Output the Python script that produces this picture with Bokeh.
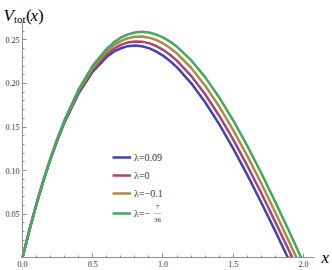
from bokeh.plotting import figure
from bokeh.models import Range1d, FixedTicker, NumeralTickFormatter, Legend, LegendItem, Label
from bokeh.embed import file_html
from bokeh.resources import INLINE

# ---- data (each curve ends where it meets V=0) ----
x_common = [0.0, 0.05, 0.1, 0.15, 0.2, 0.25, 0.3, 0.4, 0.5, 0.6, 0.65, 0.7, 0.75, 0.8, 0.85,
            0.9, 0.95, 1.0, 1.05, 1.1, 1.2, 1.3, 1.4, 1.5, 1.6, 1.7, 1.8]
x_009 = x_common + [1.888]
v_009 = [0.0, 0.0321, 0.0617, 0.0887, 0.1133, 0.1356, 0.1555, 0.1888, 0.2136, 0.2307, 0.2365,
         0.2405, 0.2429, 0.2437, 0.2429, 0.2407, 0.2370, 0.2321, 0.2259, 0.2185, 0.2005, 0.1785,
         0.1533, 0.1252, 0.0949, 0.0630, 0.0300, 0.0]
x_0 = x_common + [1.9, 1.920]
v_0 = [0.0, 0.0322, 0.0618, 0.0890, 0.1137, 0.1362, 0.1564, 0.1902, 0.2158, 0.2337, 0.2399,
       0.2444, 0.2472, 0.2484, 0.2481, 0.2464, 0.2432, 0.2387, 0.2330, 0.2260, 0.2088, 0.1876,
       0.1630, 0.1355, 0.1055, 0.0738, 0.0407, 0.0069, 0.0]
x_m01 = x_common + [1.9, 1.950]
v_m01 = [0.0, 0.0322, 0.0619, 0.0892, 0.1142, 0.1369, 0.1573, 0.1919, 0.2183, 0.2370, 0.2438,
         0.2487, 0.2521, 0.2538, 0.2540, 0.2527, 0.2501, 0.2461, 0.2408, 0.2344, 0.2181, 0.1975,
         0.1736, 0.1465, 0.1168, 0.0851, 0.0517, 0.0174, 0.0]
x_m7_36 = x_common + [1.9, 1.983]
v_m7_36 = [0.0, 0.0322, 0.0620, 0.0895, 0.1146, 0.1375, 0.1582, 0.1934, 0.2205, 0.2401, 0.2473,
           0.2527, 0.2565, 0.2587, 0.2594, 0.2587, 0.2565, 0.2530, 0.2482, 0.2422, 0.2268, 0.2073,
           0.1840, 0.1575, 0.1283, 0.0969, 0.0637, 0.0293, 0.0]
series = [(x_009, v_009), (x_0, v_0), (x_m01, v_m01), (x_m7_36, v_m7_36)]
legend_labels = ["λ=0.09", "λ=0", "λ=−0.1", "λ=−"]
colors = ["#4343AA", "#A8437C", "#A88E43", "#43A85E"]

x_ticks = [0.0, 0.5, 1.0, 1.5, 2.0]
x_minor = [0.0, 0.1, 0.2, 0.3, 0.4, 0.5, 0.6, 0.7, 0.8, 0.9, 1.0,
           1.1, 1.2, 1.3, 1.4, 1.5, 1.6, 1.7, 1.8, 1.9, 2.0]
y_ticks = [0.05, 0.10, 0.15, 0.20, 0.25]
y_minor = [0.01, 0.02, 0.03, 0.04, 0.05, 0.06, 0.07, 0.08, 0.09, 0.10,
           0.11, 0.12, 0.13, 0.14, 0.15, 0.16, 0.17, 0.18, 0.19, 0.20,
           0.21, 0.22, 0.23, 0.24, 0.25, 0.26, 0.27]
x_axis_end = 2.078
y_axis_end = 0.2705

FONT = "Liberation Serif"
W, H = 330, 268

p = figure(width=W, height=H, output_backend="svg", toolbar_location=None,
           x_range=Range1d(-0.1566, 2.1922), y_range=Range1d(-0.01264, 0.2954),
           min_border_left=0, min_border_right=0, min_border_top=0, min_border_bottom=0)
p.outline_line_color = None
p.grid.visible = False
p.background_fill_color = "white"
p.border_fill_color = "white"

renderers = []
for (xs, ys), c in zip(series, colors):
    r = p.line(xs, ys, line_color=c, line_width=2.5, line_join="round")
    renderers.append(r)

for ax in (p.xaxis[0], p.yaxis[0]):
    ax.fixed_location = 0
    ax.axis_line_color = "#8f8f8f"
    ax.major_tick_line_color = "#8f8f8f"
    ax.minor_tick_line_color = "#8f8f8f"
    ax.major_tick_in = 4
    ax.major_tick_out = 0
    ax.minor_tick_in = 2
    ax.minor_tick_out = 0
    ax.major_label_text_font = FONT
    ax.major_label_text_font_size = "8px"
    ax.major_label_text_color = "#333333"

p.xaxis[0].ticker = FixedTicker(ticks=x_ticks, minor_ticks=x_minor)
p.xaxis[0].formatter = NumeralTickFormatter(format="0.0")
p.xaxis[0].major_label_standoff = 3
p.xaxis[0].bounds = (0, x_axis_end)
p.yaxis[0].ticker = FixedTicker(ticks=y_ticks, minor_ticks=y_minor)
p.yaxis[0].formatter = NumeralTickFormatter(format="0.00")
p.yaxis[0].major_label_standoff = 3
p.yaxis[0].bounds = (0, y_axis_end)

leg_style = dict(margin=0, padding=0, spacing=4, glyph_width=19, glyph_height=14,
                 label_height=14, label_standoff=3, label_text_font=FONT,
                 label_text_font_size="10px", label_text_color="#333333",
                 background_fill_alpha=0, border_line_color=None)
legend_a = Legend(items=[LegendItem(label=l, renderers=[r])
                         for l, r in zip(legend_labels[:3], renderers[:3])],
                  location=(112, 68), **leg_style)
legend_b = Legend(items=[LegendItem(label=legend_labels[3], renderers=[renderers[3]])],
                  location=(112, 48), **leg_style)
p.add_layout(legend_a, "center")
p.add_layout(legend_b, "center")

# fraction 7/36 for last legend entry
row4 = 48 + 7
fx = 157
def small(x, y, t, size):
    p.add_layout(Label(x=x, y=y, x_units="screen", y_units="screen", text=t,
                       text_font=FONT, text_font_size=size, text_align="center",
                       text_baseline="middle", text_color="#333333"))

small(fx, row4 + 6.5, "7", "7px")
small(fx, row4 + 0.5, "—", "7px")
small(fx, row4 - 6, "36", "7px")

# axis end labels
def lab(x, y, t, size, italic=True):
    p.add_layout(Label(x=x, y=y, x_units="screen", y_units="screen", text=t,
                       text_font=FONT, text_font_size=size,
                       text_font_style="italic" if italic else "normal",
                       text_baseline="alphabetic", text_color="black"))

lab(3, 253, "V", "17px")
lab(13.5, 250, "tot", "11px", italic=False)
lab(25.5, 253, "(", "17px", italic=False)
lab(30, 253, "x", "17px")
lab(37.5, 253, ")", "17px", italic=False)
lab(321, 11, "x", "17px")

open("out.html", "w").write(file_html(p, INLINE))
